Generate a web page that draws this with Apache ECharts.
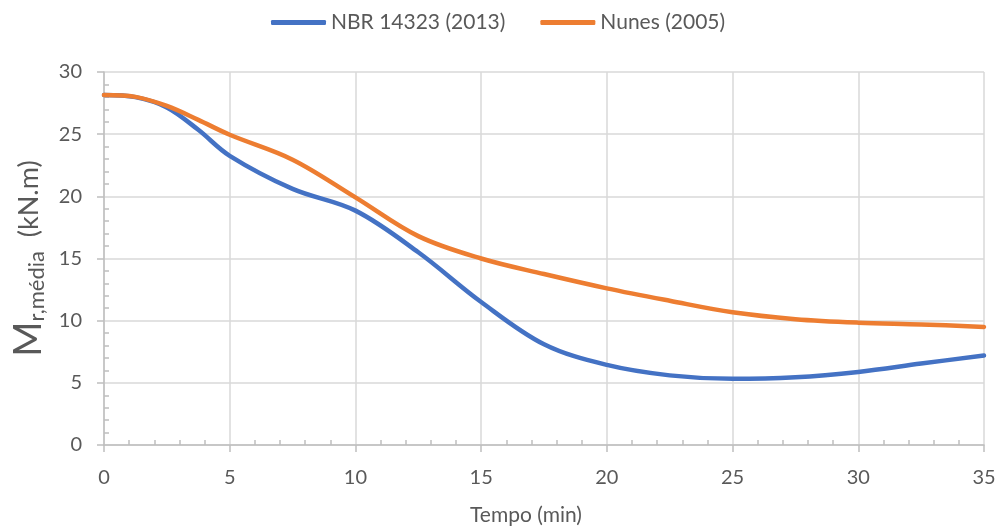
<!DOCTYPE html>
<html>
<head>
<meta charset="utf-8">
<script src="https://cdn.jsdelivr.net/npm/echarts@6/dist/echarts.min.js"></script>
<style>html,body{margin:0;padding:0;background:#fff}#c{width:998px;height:528px}</style>
</head>
<body>
<div id="c"></div>
<script>
const seriesNames = ['NBR 14323 (2013)', 'Nunes (2005)'];
const tempo = [0, 1.25, 2.5, 3.75, 5, 7.5, 10, 12.5, 15, 17.5, 20, 22.5, 25, 27.5, 30, 32.5, 35];
const nbr = [28.15, 27.98, 27.15, 25.35, 23.26, 20.6, 18.85, 15.5, 11.5, 8.1, 6.44, 5.6, 5.32, 5.45, 5.88, 6.55, 7.2];
const nunes = [28.15, 28.0, 27.27, 26.15, 24.95, 22.95, 19.92, 16.8, 15.0, 13.75, 12.6, 11.6, 10.67, 10.12, 9.84, 9.7, 9.5];
const xTicks = { min: 0, max: 35, interval: 5 };
const yTicks = { min: 0, max: 30, interval: 5 };

const FONT = 'Lato';
const TXT = '#595959';
const AX = '#BFBFBF';
const GRID = '#D9D9D9';

const pairs = (xs, ys) => xs.map((x, i) => [x, ys[i]]);

const chart = echarts.init(document.getElementById('c'));
chart.setOption({
  animation: false,
  textStyle: { fontFamily: FONT, color: TXT },
  legend: {
    top: 7, left: 266,
    icon: 'roundRect',
    itemWidth: 55, itemHeight: 5, itemGap: 35,
    textStyle: { fontFamily: FONT, fontSize: 21, color: TXT },
    data: seriesNames
  },
  grid: { left: 104, right: 14, top: 72, bottom: 83, outerBoundsMode: 'none', containLabel: false },
  xAxis: [{
    type: 'value', min: xTicks.min, max: xTicks.max, interval: xTicks.interval,
    name: 'Tempo (min)', nameLocation: 'middle', nameGap: 60,
    nameTextStyle: { fontFamily: FONT, fontSize: 21, color: TXT, padding: [0, 36, 0, 0] },
    axisLine: { show: true, lineStyle: { color: AX, width: 1.5 } },
    axisTick: { show: true, length: 7, lineStyle: { color: AX, width: 1.5 } },
    axisLabel: { fontFamily: FONT, fontSize: 20, color: TXT, margin: 23 },
    splitLine: { show: true, lineStyle: { color: GRID, width: 1.5 } }
  }, {
    type: 'value', min: xTicks.min, max: xTicks.max, interval: xTicks.interval, position: 'bottom',
    axisLine: { show: false }, axisLabel: { show: false }, splitLine: { show: false },
    axisTick: { show: false, inside: true },
    minorTick: { show: true, splitNumber: 5, length: 5, lineStyle: { color: AX, width: 1.5 } }
  }],
  yAxis: [{
    type: 'value', min: yTicks.min, max: yTicks.max, interval: yTicks.interval,
    name: '{m|M}{s|r,média}{u|  (kN.m)}', nameLocation: 'middle', nameGap: 52,
    nameTextStyle: {
      rich: {
        m: { fontFamily: FONT, fontSize: 38, color: TXT, lineHeight: 44 },
        s: { fontFamily: FONT, fontSize: 22, color: TXT, lineHeight: 44, padding: [16, 0, 0, 0] },
        u: { fontFamily: FONT, fontSize: 27, color: TXT, lineHeight: 44 }
      }
    },
    axisLine: { show: true, lineStyle: { color: AX, width: 1.5 } },
    axisTick: { show: true, length: 7, lineStyle: { color: AX, width: 1.5 } },
    axisLabel: { fontFamily: FONT, fontSize: 20, color: TXT, margin: 22 },
    splitLine: { show: true, lineStyle: { color: GRID, width: 1.5 } }
  }, {
    type: 'value', min: yTicks.min, max: yTicks.max, interval: yTicks.interval, position: 'left',
    axisLine: { show: false }, axisLabel: { show: false }, splitLine: { show: false },
    axisTick: { show: false, inside: true },
    minorTick: { show: true, splitNumber: 5, length: 5, lineStyle: { color: AX, width: 1.5 } }
  }],
  series: [{
    name: seriesNames[0], type: 'line', smooth: 0.35, symbol: 'none',
    data: pairs(tempo, nbr),
    lineStyle: { color: '#4472C4', width: 4.5, cap: 'round' },
    itemStyle: { color: '#4472C4' }
  }, {
    name: seriesNames[1], type: 'line', smooth: 0.35, symbol: 'none',
    data: pairs(tempo, nunes),
    lineStyle: { color: '#ED7D31', width: 4.5, cap: 'round' },
    itemStyle: { color: '#ED7D31' }
  }]
});
</script>
</body>
</html>
